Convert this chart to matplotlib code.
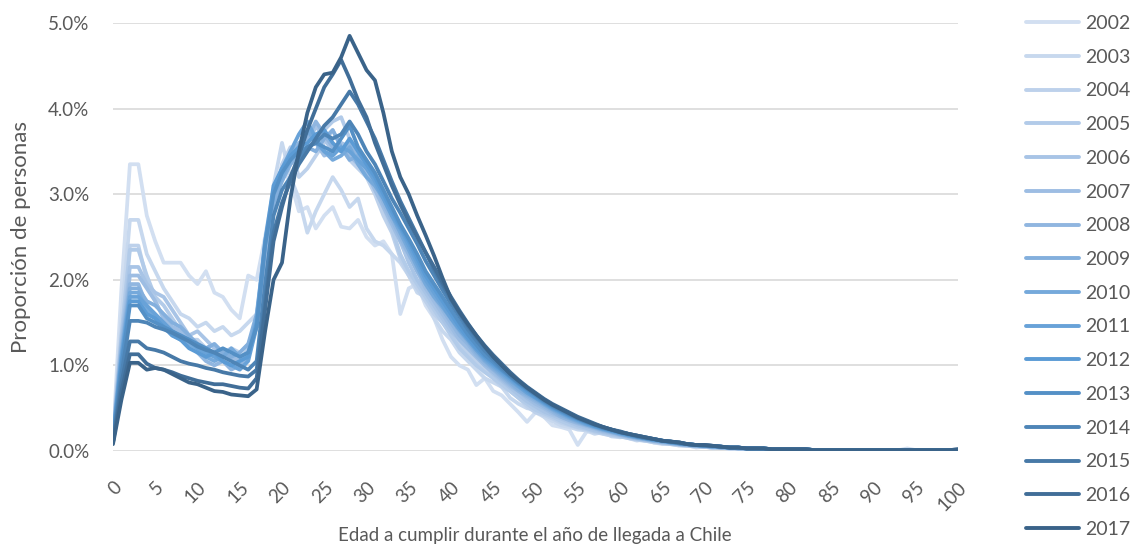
import numpy as np
import matplotlib
matplotlib.use("Agg")
import matplotlib.pyplot as plt
from matplotlib.colors import LinearSegmentedColormap
from matplotlib.transforms import ScaledTranslation

plt.rcParams['font.family'] = ['Lato', 'DejaVu Sans']

edades = list(range(0, 101))
anios = ['2002', '2003', '2004', '2005', '2006', '2007', '2008', '2009',
         '2010', '2011', '2012', '2013', '2014', '2015', '2016', '2017']

# proporcion de personas (%) por edad, una lista por año de llegada
y2002 = [0.15, 1.90, 3.35, 3.35, 2.75, 2.45, 2.20, 2.20, 2.20, 2.05,
         1.95, 2.10, 1.85, 1.80, 1.65, 1.55, 2.05, 2.00, 2.50, 3.05,
         3.30, 3.15, 2.80, 2.85, 2.60, 2.75, 2.85, 2.62, 2.60, 2.70,
         2.50, 2.40, 2.45, 2.30, 1.60, 1.90, 1.95, 1.70, 1.55, 1.30,
         1.10, 1.00, 0.95, 0.77, 0.85, 0.70, 0.65, 0.55, 0.45, 0.34,
         0.45, 0.40, 0.30, 0.28, 0.25, 0.07, 0.22, 0.25, 0.20, 0.18,
         0.22, 0.15, 0.12, 0.14, 0.10, 0.08, 0.09, 0.06, 0.07, 0.04,
         0.05, 0.03, 0.04, 0.02, 0.03, 0.02, 0.02, 0.01, 0.02, 0.01,
         0.01, 0.01, 0.02, 0.01, 0.01, 0.01, 0.01, 0.01, 0.01, 0.00,
         0.01, 0.01, 0.01, 0.01, 0.03, 0.01, 0.01, 0.01, 0.01, 0.01,
         0.01]
y2003 = [0.15, 1.55, 2.70, 2.70, 2.30, 2.10, 1.90, 1.75, 1.60, 1.55,
         1.45, 1.50, 1.40, 1.45, 1.35, 1.40, 1.50, 1.60, 2.20, 3.10,
         3.60, 3.20, 2.95, 2.55, 2.80, 3.00, 3.20, 3.05, 2.85, 2.95,
         2.60, 2.45, 2.40, 2.30, 2.20, 2.05, 1.85, 1.80, 1.55, 1.40,
         1.30, 1.15, 1.05, 0.95, 0.85, 0.80, 0.75, 0.62, 0.55, 0.50,
         0.48, 0.40, 0.35, 0.30, 0.28, 0.25, 0.24, 0.20, 0.22, 0.17,
         0.16, 0.18, 0.13, 0.12, 0.10, 0.10, 0.08, 0.07, 0.06, 0.05,
         0.05, 0.04, 0.04, 0.03, 0.03, 0.03, 0.02, 0.02, 0.02, 0.02,
         0.02, 0.01, 0.01, 0.01, 0.01, 0.01, 0.01, 0.01, 0.01, 0.01,
         0.01, 0.01, 0.01, 0.01, 0.01, 0.01, 0.01, 0.01, 0.01, 0.01,
         0.01]
y2004 = [0.15, 1.35, 2.40, 2.40, 2.00, 1.75, 1.55, 1.45, 1.40, 1.30,
         1.30, 1.20, 1.25, 1.15, 1.20, 1.15, 1.25, 1.45, 2.10, 2.90,
         3.35, 3.55, 3.20, 3.30, 3.45, 3.60, 3.75, 3.55, 3.40, 3.30,
         3.20, 3.00, 2.75, 2.55, 2.25, 2.05, 1.90, 1.75, 1.60, 1.50,
         1.40, 1.25, 1.15, 1.05, 0.95, 0.85, 0.75, 0.70, 0.62, 0.52,
         0.45, 0.42, 0.38, 0.33, 0.30, 0.27, 0.25, 0.22, 0.20, 0.18,
         0.17, 0.15, 0.13, 0.12, 0.10, 0.09, 0.08, 0.07, 0.06, 0.05,
         0.05, 0.04, 0.04, 0.03, 0.03, 0.02, 0.02, 0.02, 0.02, 0.02,
         0.01, 0.01, 0.01, 0.01, 0.01, 0.01, 0.01, 0.01, 0.01, 0.01,
         0.01, 0.01, 0.01, 0.01, 0.01, 0.01, 0.01, 0.01, 0.01, 0.01,
         0.01]
y2005 = [0.18, 1.35, 2.35, 2.35, 2.05, 1.80, 1.70, 1.55, 1.40, 1.30,
         1.25, 1.20, 1.15, 1.10, 1.10, 1.05, 1.20, 1.50, 2.20, 2.85,
         3.20, 3.35, 3.45, 3.55, 3.60, 3.75, 3.85, 3.90, 3.65, 3.45,
         3.30, 3.10, 2.85, 2.60, 2.30, 2.10, 1.95, 1.80, 1.65, 1.50,
         1.35, 1.20, 1.10, 1.00, 0.92, 0.85, 0.78, 0.70, 0.62, 0.55,
         0.48, 0.44, 0.40, 0.35, 0.31, 0.28, 0.26, 0.23, 0.21, 0.19,
         0.17, 0.15, 0.14, 0.12, 0.11, 0.09, 0.08, 0.07, 0.06, 0.06,
         0.05, 0.04, 0.04, 0.03, 0.03, 0.03, 0.02, 0.02, 0.02, 0.02,
         0.02, 0.01, 0.01, 0.01, 0.01, 0.01, 0.01, 0.01, 0.01, 0.01,
         0.01, 0.01, 0.01, 0.01, 0.01, 0.01, 0.01, 0.01, 0.01, 0.01,
         0.01]
y2006 = [0.15, 1.30, 2.15, 2.15, 1.95, 1.85, 1.80, 1.65, 1.50, 1.35,
         1.40, 1.30, 1.20, 1.15, 1.10, 1.00, 1.10, 1.45, 2.25, 2.95,
         3.30, 3.50, 3.40, 3.55, 3.80, 3.65, 3.50, 3.60, 3.55, 3.40,
         3.30, 3.15, 2.95, 2.70, 2.45, 2.20, 2.00, 1.85, 1.70, 1.55,
         1.40, 1.30, 1.20, 1.10, 1.00, 0.90, 0.82, 0.74, 0.66, 0.58,
         0.52, 0.46, 0.42, 0.38, 0.34, 0.30, 0.27, 0.24, 0.22, 0.20,
         0.18, 0.16, 0.14, 0.13, 0.11, 0.10, 0.09, 0.08, 0.07, 0.06,
         0.05, 0.05, 0.04, 0.04, 0.03, 0.03, 0.03, 0.02, 0.02, 0.02,
         0.02, 0.02, 0.01, 0.01, 0.01, 0.01, 0.01, 0.01, 0.01, 0.01,
         0.01, 0.01, 0.01, 0.01, 0.01, 0.01, 0.01, 0.01, 0.01, 0.01,
         0.01]
y2007 = [0.15, 1.25, 2.05, 2.05, 1.90, 1.75, 1.55, 1.45, 1.40, 1.30,
         1.20, 1.15, 1.10, 1.15, 1.10, 1.05, 1.15, 1.55, 2.30, 2.90,
         3.20, 3.35, 3.55, 3.70, 3.60, 3.45, 3.50, 3.55, 3.45, 3.35,
         3.25, 3.05, 2.85, 2.65, 2.45, 2.30, 2.10, 1.90, 1.75, 1.60,
         1.45, 1.30, 1.20, 1.10, 1.00, 0.92, 0.84, 0.76, 0.70, 0.62,
         0.55, 0.50, 0.44, 0.40, 0.36, 0.32, 0.29, 0.26, 0.23, 0.21,
         0.19, 0.17, 0.15, 0.13, 0.12, 0.10, 0.09, 0.08, 0.07, 0.06,
         0.05, 0.05, 0.04, 0.04, 0.03, 0.03, 0.03, 0.02, 0.02, 0.02,
         0.02, 0.01, 0.01, 0.01, 0.01, 0.01, 0.01, 0.01, 0.01, 0.01,
         0.01, 0.01, 0.01, 0.01, 0.01, 0.01, 0.01, 0.01, 0.01, 0.01,
         0.01]
y2008 = [0.15, 1.20, 1.95, 1.95, 1.70, 1.55, 1.50, 1.40, 1.30, 1.25,
         1.15, 1.05, 1.00, 1.05, 0.95, 1.00, 1.10, 1.50, 2.35, 2.95,
         3.25, 3.45, 3.60, 3.65, 3.85, 3.70, 3.55, 3.50, 3.60, 3.45,
         3.35, 3.15, 2.90, 2.70, 2.50, 2.30, 2.10, 1.95, 1.80, 1.65,
         1.50, 1.35, 1.25, 1.12, 1.02, 0.95, 0.86, 0.78, 0.70, 0.64,
         0.58, 0.52, 0.46, 0.40, 0.36, 0.33, 0.30, 0.27, 0.24, 0.22,
         0.19, 0.17, 0.15, 0.14, 0.12, 0.11, 0.09, 0.08, 0.07, 0.06,
         0.06, 0.05, 0.04, 0.04, 0.03, 0.03, 0.03, 0.02, 0.02, 0.02,
         0.02, 0.02, 0.01, 0.01, 0.01, 0.01, 0.01, 0.01, 0.01, 0.01,
         0.01, 0.01, 0.01, 0.01, 0.01, 0.01, 0.01, 0.01, 0.01, 0.01,
         0.01]
y2009 = [0.15, 1.15, 1.90, 1.90, 1.75, 1.70, 1.60, 1.50, 1.45, 1.35,
         1.25, 1.20, 1.25, 1.15, 1.10, 1.15, 1.25, 1.60, 2.40, 2.90,
         3.15, 3.35, 3.50, 3.55, 3.50, 3.65, 3.75, 3.55, 3.40, 3.45,
         3.35, 3.20, 3.00, 2.80, 2.60, 2.40, 2.20, 2.00, 1.85, 1.70,
         1.55, 1.40, 1.28, 1.15, 1.05, 0.96, 0.88, 0.80, 0.72, 0.66,
         0.60, 0.54, 0.48, 0.42, 0.38, 0.34, 0.31, 0.28, 0.25, 0.22,
         0.20, 0.18, 0.16, 0.14, 0.12, 0.11, 0.10, 0.08, 0.07, 0.06,
         0.06, 0.05, 0.04, 0.04, 0.03, 0.03, 0.03, 0.02, 0.02, 0.02,
         0.02, 0.02, 0.01, 0.01, 0.01, 0.01, 0.01, 0.01, 0.01, 0.01,
         0.01, 0.01, 0.01, 0.01, 0.01, 0.01, 0.01, 0.01, 0.01, 0.01,
         0.01]
y2010 = [0.15, 1.10, 1.85, 1.85, 1.65, 1.55, 1.45, 1.35, 1.30, 1.25,
         1.20, 1.10, 1.05, 1.10, 1.20, 1.10, 1.15, 1.55, 2.45, 3.00,
         3.20, 3.40, 3.55, 3.75, 3.60, 3.50, 3.40, 3.45, 3.55, 3.35,
         3.20, 3.10, 2.95, 2.75, 2.55, 2.35, 2.15, 1.95, 1.80, 1.68,
         1.55, 1.42, 1.30, 1.18, 1.06, 0.98, 0.90, 0.82, 0.75, 0.68,
         0.62, 0.55, 0.49, 0.44, 0.39, 0.35, 0.31, 0.28, 0.25, 0.23,
         0.20, 0.18, 0.16, 0.14, 0.13, 0.11, 0.10, 0.09, 0.08, 0.07,
         0.06, 0.05, 0.05, 0.04, 0.04, 0.03, 0.03, 0.02, 0.02, 0.02,
         0.02, 0.02, 0.01, 0.01, 0.01, 0.01, 0.01, 0.01, 0.01, 0.01,
         0.01, 0.01, 0.01, 0.01, 0.01, 0.01, 0.01, 0.01, 0.01, 0.01,
         0.01]
y2011 = [0.15, 1.10, 1.80, 1.80, 1.70, 1.60, 1.50, 1.40, 1.35, 1.30,
         1.20, 1.15, 1.10, 1.05, 1.00, 0.95, 1.05, 1.45, 2.40, 3.05,
         3.30, 3.50, 3.70, 3.85, 3.65, 3.50, 3.45, 3.55, 3.50, 3.40,
         3.30, 3.15, 2.95, 2.75, 2.60, 2.40, 2.20, 2.00, 1.85, 1.70,
         1.55, 1.42, 1.30, 1.18, 1.08, 1.00, 0.92, 0.84, 0.76, 0.68,
         0.62, 0.56, 0.50, 0.45, 0.40, 0.36, 0.32, 0.29, 0.26, 0.23,
         0.21, 0.18, 0.16, 0.15, 0.13, 0.12, 0.10, 0.09, 0.08, 0.07,
         0.06, 0.05, 0.05, 0.04, 0.04, 0.03, 0.03, 0.03, 0.02, 0.02,
         0.02, 0.02, 0.02, 0.01, 0.01, 0.01, 0.01, 0.01, 0.01, 0.01,
         0.01, 0.01, 0.01, 0.01, 0.01, 0.01, 0.01, 0.01, 0.01, 0.01,
         0.01]
y2012 = [0.14, 1.05, 1.75, 1.75, 1.60, 1.55, 1.45, 1.35, 1.30, 1.20,
         1.15, 1.10, 1.15, 1.05, 1.00, 1.05, 1.10, 1.50, 2.45, 3.10,
         3.30, 3.45, 3.55, 3.60, 3.70, 3.75, 3.60, 3.50, 3.65, 3.50,
         3.35, 3.20, 3.00, 2.80, 2.62, 2.45, 2.25, 2.05, 1.90, 1.75,
         1.60, 1.45, 1.32, 1.20, 1.10, 1.02, 0.94, 0.86, 0.78, 0.70,
         0.63, 0.57, 0.51, 0.46, 0.41, 0.37, 0.33, 0.29, 0.26, 0.24,
         0.21, 0.19, 0.17, 0.15, 0.13, 0.12, 0.10, 0.09, 0.08, 0.07,
         0.06, 0.06, 0.05, 0.04, 0.04, 0.03, 0.03, 0.03, 0.02, 0.02,
         0.02, 0.02, 0.02, 0.01, 0.01, 0.01, 0.01, 0.01, 0.01, 0.01,
         0.01, 0.01, 0.01, 0.01, 0.01, 0.01, 0.01, 0.01, 0.01, 0.01,
         0.01]
y2013 = [0.14, 1.00, 1.70, 1.70, 1.55, 1.50, 1.45, 1.40, 1.35, 1.30,
         1.25, 1.20, 1.15, 1.20, 1.15, 1.10, 1.15, 1.45, 2.40, 3.00,
         3.25, 3.40, 3.50, 3.55, 3.60, 3.55, 3.50, 3.65, 3.80, 3.55,
         3.40, 3.25, 3.05, 2.85, 2.65, 2.48, 2.30, 2.10, 1.95, 1.80,
         1.65, 1.50, 1.36, 1.24, 1.12, 1.04, 0.95, 0.87, 0.79, 0.72,
         0.65, 0.58, 0.52, 0.47, 0.42, 0.38, 0.34, 0.30, 0.27, 0.24,
         0.22, 0.19, 0.17, 0.15, 0.14, 0.12, 0.11, 0.09, 0.08, 0.07,
         0.06, 0.06, 0.05, 0.04, 0.04, 0.03, 0.03, 0.03, 0.02, 0.02,
         0.02, 0.02, 0.02, 0.01, 0.01, 0.01, 0.01, 0.01, 0.01, 0.01,
         0.01, 0.01, 0.01, 0.01, 0.01, 0.01, 0.01, 0.01, 0.01, 0.01,
         0.01]
y2014 = [0.12, 0.90, 1.52, 1.52, 1.50, 1.45, 1.42, 1.38, 1.33, 1.28,
         1.22, 1.18, 1.15, 1.10, 1.05, 1.00, 0.95, 1.05, 1.95, 2.75,
         3.05, 3.20, 3.40, 3.55, 3.60, 3.70, 3.65, 3.70, 3.85, 3.70,
         3.50, 3.35, 3.15, 2.95, 2.78, 2.60, 2.42, 2.22, 2.05, 1.88,
         1.72, 1.57, 1.42, 1.29, 1.17, 1.07, 0.97, 0.88, 0.80, 0.73,
         0.66, 0.59, 0.53, 0.48, 0.43, 0.38, 0.34, 0.31, 0.27, 0.25,
         0.22, 0.20, 0.17, 0.15, 0.14, 0.12, 0.11, 0.09, 0.08, 0.07,
         0.06, 0.06, 0.05, 0.04, 0.04, 0.03, 0.03, 0.03, 0.02, 0.02,
         0.02, 0.02, 0.02, 0.01, 0.01, 0.01, 0.01, 0.01, 0.01, 0.01,
         0.01, 0.01, 0.01, 0.01, 0.01, 0.01, 0.01, 0.01, 0.01, 0.01,
         0.01]
y2015 = [0.10, 0.80, 1.28, 1.28, 1.20, 1.18, 1.15, 1.10, 1.05, 1.02,
         1.00, 0.97, 0.95, 0.92, 0.90, 0.88, 0.87, 0.95, 1.75, 2.55,
         2.90, 3.15, 3.35, 3.50, 3.65, 3.80, 3.90, 4.05, 4.20, 4.05,
         3.85, 3.65, 3.40, 3.15, 2.92, 2.72, 2.52, 2.32, 2.12, 1.94,
         1.77, 1.61, 1.46, 1.33, 1.21, 1.10, 1.00, 0.91, 0.82, 0.74,
         0.67, 0.60, 0.54, 0.49, 0.44, 0.39, 0.35, 0.31, 0.28, 0.25,
         0.22, 0.20, 0.18, 0.16, 0.14, 0.12, 0.11, 0.10, 0.08, 0.07,
         0.07, 0.06, 0.05, 0.04, 0.04, 0.03, 0.03, 0.03, 0.02, 0.02,
         0.02, 0.02, 0.02, 0.01, 0.01, 0.01, 0.01, 0.01, 0.01, 0.01,
         0.01, 0.01, 0.01, 0.01, 0.01, 0.01, 0.01, 0.01, 0.01, 0.01,
         0.01]
y2016 = [0.10, 0.70, 1.13, 1.13, 1.02, 0.97, 0.95, 0.92, 0.88, 0.85,
         0.82, 0.80, 0.78, 0.78, 0.76, 0.74, 0.73, 0.85, 1.65, 2.45,
         2.85, 3.20, 3.45, 3.75, 4.00, 4.25, 4.40, 4.57, 4.35, 4.10,
         3.90, 3.60, 3.35, 3.10, 2.88, 2.68, 2.50, 2.32, 2.15, 1.97,
         1.80, 1.64, 1.49, 1.35, 1.23, 1.12, 1.02, 0.92, 0.83, 0.75,
         0.68, 0.61, 0.55, 0.50, 0.45, 0.40, 0.36, 0.32, 0.28, 0.25,
         0.23, 0.20, 0.18, 0.16, 0.14, 0.12, 0.11, 0.10, 0.08, 0.07,
         0.07, 0.06, 0.05, 0.04, 0.04, 0.03, 0.03, 0.03, 0.02, 0.02,
         0.02, 0.02, 0.02, 0.01, 0.01, 0.01, 0.01, 0.01, 0.01, 0.01,
         0.01, 0.01, 0.01, 0.01, 0.01, 0.01, 0.01, 0.01, 0.01, 0.01,
         0.02]
y2017 = [0.08, 0.60, 1.03, 1.03, 0.95, 0.97, 0.95, 0.90, 0.85, 0.80,
         0.78, 0.74, 0.70, 0.69, 0.66, 0.65, 0.64, 0.72, 1.40, 2.00,
         2.20, 2.95, 3.50, 3.95, 4.25, 4.40, 4.42, 4.60, 4.85, 4.65,
         4.45, 4.33, 3.95, 3.50, 3.20, 3.00, 2.75, 2.52, 2.28, 2.02,
         1.78, 1.62, 1.48, 1.35, 1.22, 1.10, 1.00, 0.90, 0.82, 0.74,
         0.67, 0.60, 0.54, 0.49, 0.44, 0.39, 0.35, 0.31, 0.28, 0.25,
         0.22, 0.20, 0.18, 0.16, 0.14, 0.12, 0.11, 0.10, 0.08, 0.07,
         0.07, 0.06, 0.05, 0.04, 0.04, 0.03, 0.03, 0.03, 0.02, 0.02,
         0.02, 0.02, 0.02, 0.01, 0.01, 0.01, 0.01, 0.01, 0.01, 0.01,
         0.01, 0.01, 0.01, 0.01, 0.01, 0.01, 0.01, 0.01, 0.01, 0.01,
         0.02]

series = [y2002, y2003, y2004, y2005, y2006, y2007, y2008, y2009,
          y2010, y2011, y2012, y2013, y2014, y2015, y2016, y2017]

cmap = LinearSegmentedColormap.from_list('azules', ['#d2dff1', '#9dbde3', '#5b9bd5', '#3a6389'])
colores = [cmap(i / (len(anios) - 1)) for i in range(len(anios))]

fig = plt.figure(figsize=(11.39, 5.48), dpi=100)
ax = fig.add_axes([113 / 1139, 1 - 451 / 548, (958 - 113) / 1139, (451 - 23) / 548])

for anio, vals, c in zip(anios, series, colores):
    ax.plot(edades, vals, color=c, lw=2.7, label=anio,
            solid_joinstyle='round', solid_capstyle='round')

ax.set_xlim(0, 100)
ax.set_ylim(0, 5)
ax.set_yticks(np.arange(0, 5.01, 1))
ax.set_yticklabels([f'{v:.1f}%' for v in np.arange(0, 5.01, 1)])
ax.set_xticks(range(0, 101, 5))
ax.set_xticklabels([str(v) for v in range(0, 101, 5)], rotation=45,
                   ha='right', va='top', rotation_mode='anchor')
# desplazar etiquetas del eje x un poco a la derecha
off = ScaledTranslation(5 / 100, 0, fig.dpi_scale_trans)
for lab in ax.get_xticklabels():
    lab.set_transform(lab.get_transform() + off)
ax.grid(axis='y', color='#d9d9d9', lw=1.2)
ax.set_axisbelow(True)
for s in ax.spines.values():
    s.set_visible(False)
ax.tick_params(length=0, labelsize=13.5, colors='#595959')
ax.tick_params(axis='x', pad=20)
ax.tick_params(axis='y', pad=17)

fig.text(535 / 1139, 1 - 535 / 548, 'Edad a cumplir durante el año de llegada a Chile',
         fontsize=13.5, color='#595959', ha='center', va='center')
ax.set_ylabel('Proporción de personas', fontsize=16, color='#595959', labelpad=12)

leg = fig.legend(loc='upper left', bbox_to_anchor=(1026 / 1139, 1 - 15 / 548),
                 frameon=False, fontsize=14, handlelength=2.7, handletextpad=0.35,
                 labelspacing=0.86, borderpad=0, borderaxespad=0)
for t in leg.get_texts():
    t.set_color('#595959')
for l in leg.get_lines():
    l.set_linewidth(2.8)

fig.savefig('out.png', dpi=100)
